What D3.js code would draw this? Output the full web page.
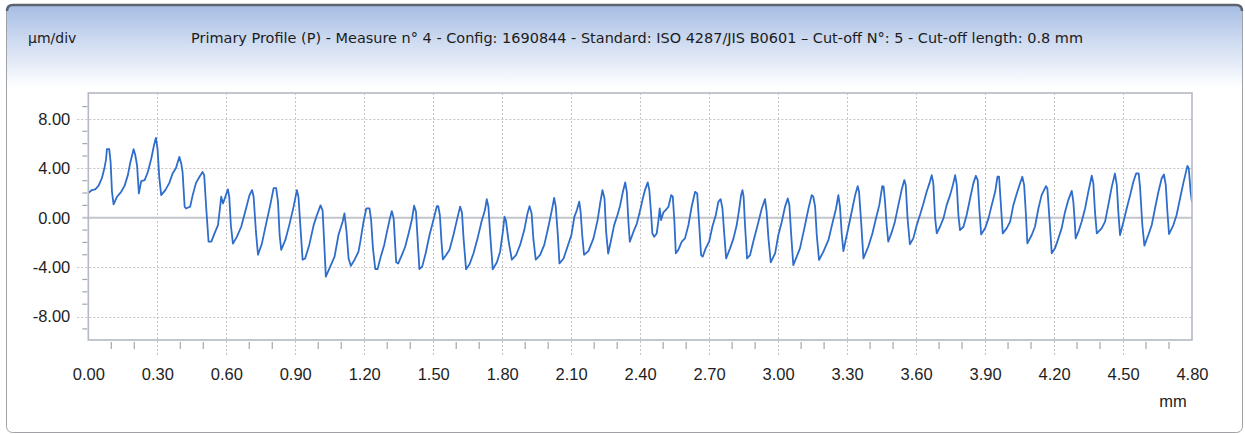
<!DOCTYPE html>
<html>
<head>
<meta charset="utf-8">
<script src="https://cdn.jsdelivr.net/npm/d3@7"></script>
<style>
  html, body { margin: 0; padding: 0; background: #ffffff; }
  svg { display: block; }
</style>
</head>
<body>
<svg id="chart" width="1245" height="434"></svg>
<script>
// Primary profile trace: position along the surface (mm) and height (µm)
const profileX = [
  0.000,0.016,0.030,0.045,0.059,0.070,0.077,0.081,0.091,0.097,0.103,0.110,0.125,0.143,0.158,0.172,0.183,0.197,0.204,0.212,
  0.220,0.230,0.245,0.259,0.274,0.286,0.294,0.301,0.309,0.317,0.335,0.352,0.367,0.381,0.396,0.404,0.410,0.419,0.425,0.443,
  0.454,0.468,0.483,0.497,0.504,0.513,0.523,0.535,0.549,0.564,0.574,0.578,0.586,0.596,0.607,0.613,0.620,0.629,0.646,0.665,
  0.686,0.701,0.712,0.719,0.729,0.738,0.755,0.772,0.791,0.806,0.817,0.825,0.832,0.839,0.857,0.874,0.893,0.907,0.914,0.923,
  0.932,0.943,0.961,0.980,0.994,1.010,1.019,1.025,1.033,1.052,1.071,1.088,1.106,1.114,1.123,1.132,1.142,1.158,1.175,1.183,
  1.197,1.209,1.223,1.230,1.238,1.248,1.258,1.272,1.287,1.299,1.310,1.320,1.328,1.333,1.339,1.348,1.364,1.378,1.393,1.407,
  1.417,1.425,1.432,1.440,1.452,1.467,1.484,1.501,1.516,1.522,1.529,1.536,1.542,1.557,1.571,1.588,1.603,1.617,1.625,1.632,
  1.643,1.658,1.675,1.693,1.710,1.725,1.733,1.740,1.748,1.759,1.777,1.791,1.803,1.810,1.816,1.827,1.842,1.861,1.878,1.896,
  1.910,1.919,1.928,1.936,1.946,1.965,1.983,2.001,2.016,2.026,2.033,2.042,2.049,2.067,2.084,2.101,2.114,2.125,2.135,2.141,
  2.148,2.156,2.175,2.197,2.215,2.226,2.236,2.245,2.252,2.261,2.272,2.287,2.301,2.313,2.325,2.335,2.342,2.349,2.355,2.371,
  2.386,2.400,2.410,2.421,2.433,2.440,2.448,2.453,2.461,2.472,2.479,2.485,2.491,2.501,2.511,2.523,2.535,2.542,2.549,2.555,
  2.566,2.581,2.595,2.610,2.624,2.639,2.648,2.656,2.665,2.672,2.685,2.700,2.714,2.729,2.740,2.750,2.758,2.765,2.774,2.791,
  2.806,2.820,2.830,2.839,2.845,2.850,2.856,2.865,2.878,2.892,2.911,2.929,2.943,2.950,2.958,2.968,2.987,3.001,3.016,3.030,
  3.042,3.049,3.056,3.066,3.081,3.095,3.114,3.132,3.146,3.153,3.161,3.168,3.178,3.197,3.219,3.236,3.252,3.262,3.269,3.277,
  3.284,3.294,3.308,3.323,3.335,3.346,3.352,3.361,3.371,3.392,3.410,3.424,3.440,3.453,3.459,3.465,3.472,3.479,3.494,3.508,
  3.523,3.537,3.549,3.555,3.563,3.573,3.588,3.603,3.617,3.632,3.646,3.658,3.668,3.675,3.683,3.690,3.704,3.719,3.733,3.748,
  3.760,3.770,3.777,3.784,3.791,3.806,3.820,3.835,3.849,3.860,3.868,3.875,3.883,3.900,3.915,3.929,3.944,3.954,3.961,3.968,
  3.977,3.994,4.009,4.023,4.038,4.052,4.062,4.070,4.077,4.084,4.103,4.117,4.132,4.146,4.165,4.171,4.180,4.190,4.204,4.219,
  4.233,4.248,4.262,4.277,4.284,4.290,4.294,4.306,4.320,4.335,4.349,4.364,4.371,4.378,4.386,4.407,4.422,4.436,4.451,4.465,
  4.473,4.480,4.487,4.502,4.516,4.531,4.545,4.557,4.568,4.574,4.584,4.593,4.610,4.625,4.639,4.654,4.668,4.678,4.686,4.693,
  4.700,4.719,4.733,4.748,4.762,4.780,4.786,4.794,4.800
];
const profileY = [
  2.00,2.24,2.30,2.60,3.20,4.00,4.70,5.55,5.55,4.50,2.10,1.08,1.70,2.10,2.60,3.45,4.50,5.55,5.10,4.25,
  1.97,2.96,3.05,3.70,4.80,5.90,6.47,5.60,3.20,1.83,2.24,2.80,3.60,4.00,4.93,4.40,3.70,0.90,0.75,0.90,
  1.83,2.80,3.30,3.70,3.45,0.75,-1.94,-1.94,-1.27,-0.60,1.00,1.70,1.16,1.70,2.30,1.70,-0.60,-2.10,-1.55,-0.73,
  0.75,1.83,2.24,1.70,-1.13,-3.00,-2.10,-0.60,1.00,2.40,2.40,1.30,-1.40,-2.60,-1.80,-0.60,0.90,2.24,1.70,-0.86,
  -3.40,-3.30,-2.20,-0.60,0.20,1.00,0.60,-1.67,-4.77,-3.96,-3.15,-1.40,-0.32,0.35,-1.13,-3.30,-3.90,-3.40,-2.75,-1.94,
  -0.32,0.75,0.75,-0.19,-2.48,-4.15,-4.15,-3.15,-2.20,-1.13,-0.19,0.54,-0.05,-1.67,-3.60,-3.70,-3.00,-2.35,-1.27,-0.19,
  0.97,0.50,-1.67,-4.15,-3.96,-2.90,-1.40,-0.19,0.94,0.94,0.20,-1.94,-3.37,-3.00,-2.60,-1.40,-0.19,0.90,0.43,-1.67,
  -4.18,-3.77,-2.90,-1.67,-0.32,0.62,1.50,0.90,-1.40,-4.18,-3.60,-2.75,-1.13,0.08,-0.19,-1.80,-3.40,-3.00,-2.20,-1.00,
  0.35,0.94,0.35,-1.80,-3.40,-3.00,-2.20,-0.73,0.62,1.60,0.90,-1.40,-3.70,-3.30,-2.35,-1.40,0.08,0.62,1.30,0.50,
  -1.40,-3.00,-2.70,-1.67,-0.19,1.16,2.24,1.56,-1.13,-2.90,-1.94,-0.60,0.20,1.00,2.10,2.86,2.10,-0.32,-1.94,-1.13,
  -0.45,0.60,1.43,2.24,2.86,2.24,0.22,-1.27,-1.54,-1.27,-0.32,0.75,-0.19,0.43,0.62,0.89,1.83,1.70,-0.32,-2.88,
  -2.60,-1.94,-1.67,-0.59,0.89,2.10,1.97,-0.32,-3.02,-3.15,-2.48,-1.94,-0.73,0.22,1.29,1.51,0.75,-1.13,-3.29,-2.48,
  -1.67,-0.59,0.62,1.83,2.24,1.70,-0.59,-3.29,-3.02,-1.94,-0.59,0.75,1.51,0.49,-1.67,-3.61,-2.88,-1.40,-0.32,0.89,
  1.56,1.02,-1.13,-3.83,-3.15,-2.48,-0.86,0.75,1.83,1.70,0.89,-1.40,-3.42,-2.75,-1.80,-0.46,0.75,1.83,0.89,-1.40,
  -2.70,-1.80,-0.59,0.75,1.83,2.56,2.10,-0.32,-3.29,-2.35,-1.27,-0.19,1.02,2.56,2.50,1.29,-0.59,-1.94,-1.19,-0.32,
  1.02,2.24,3.05,2.64,-0.05,-2.15,-1.67,-0.59,0.22,1.16,2.10,2.78,3.45,2.78,-0.05,-1.27,-0.73,-0.05,1.02,1.83,
  2.64,3.45,2.64,0.22,-1.00,-0.73,0.22,1.56,2.78,3.40,3.05,0.75,-1.35,-0.86,-0.05,1.02,2.10,3.32,3.32,1.29,
  -1.27,-0.86,-0.32,1.02,1.97,2.78,3.32,2.64,0.49,-2.08,-1.40,-0.73,0.75,1.83,2.56,2.37,-0.05,-2.88,-2.48,-1.67,
  -0.86,0.49,1.43,2.18,1.29,-0.32,-1.67,-1.13,-0.32,0.75,2.10,3.40,2.78,0.49,-1.27,-0.86,-0.32,1.02,2.50,3.58,
  2.64,0.35,-1.40,-0.32,0.75,1.83,2.91,3.58,3.58,2.50,-0.59,-2.26,-1.40,-0.59,0.75,2.10,3.18,3.50,2.64,0.49,
  -1.32,-0.59,0.22,1.56,2.78,4.20,3.99,2.10,1.24
];

// Axis ticks
const xTicks = [0, 0.3, 0.6, 0.9, 1.2, 1.5, 1.8, 2.1, 2.4, 2.7, 3.0, 3.3, 3.6, 3.9, 4.2, 4.5, 4.8];
const xMinorTicks = d3.range(1, 48).map(i => i / 10).filter(v => Math.abs(v / 0.3 - Math.round(v / 0.3)) > 1e-6);
const yTicks = [-8, -4, 0, 4, 8];
const yMinorTicks = d3.range(-9, 10).filter(v => v % 4 !== 0);

const unitLabel = "µm/div";
const titleText = "Primary Profile (P) - Measure n° 4 - Config: 1690844 - Standard: ISO 4287/JIS B0601 – Cut-off N°: 5 - Cut-off length: 0.8 mm";
const xUnit = "mm";

const plot = { left: 88.3, right: 1192, top: 93, bottom: 340 };

const svg = d3.select("#chart");
const defs = svg.append("defs");

const grad = defs.append("linearGradient")
  .attr("id", "headerGrad").attr("x1", 0).attr("y1", 0).attr("x2", 0).attr("y2", 1);
grad.append("stop").attr("offset", "0%").attr("stop-color", "#a6bde3");
grad.append("stop").attr("offset", "45%").attr("stop-color", "#d0dcf1");
grad.append("stop").attr("offset", "100%").attr("stop-color", "#ffffff");

defs.append("clipPath").attr("id", "plotClip")
  .append("rect")
  .attr("x", plot.left).attr("y", plot.top)
  .attr("width", plot.right - plot.left).attr("height", plot.bottom - plot.top);

// Window frame
svg.append("rect")
  .attr("x", 6.5).attr("y", 4.5).attr("width", 1236).attr("height", 428)
  .attr("rx", 6).attr("fill", "#ffffff").attr("stroke", "#9ea3aa").attr("stroke-width", 1);

// Header band
svg.append("rect")
  .attr("x", 7).attr("y", 6).attr("width", 1235).attr("height", 82)
  .attr("fill", "url(#headerGrad)");
svg.append("path")
  .attr("d", "M7,11 Q7,5 13,5 L1236,5 Q1242,5 1242,11")
  .attr("fill", "none").attr("stroke", "#5d6470").attr("stroke-width", 2.5);

svg.append("text")
  .attr("x", 28).attr("y", 43)
  .attr("font-family", "'DejaVu Sans', Verdana, sans-serif")
  .attr("font-size", 14).attr("fill", "#1c1c1c")
  .text(unitLabel);
svg.append("text")
  .attr("x", 191).attr("y", 43)
  .attr("font-family", "'DejaVu Sans', Verdana, sans-serif")
  .attr("font-size", 13.5).attr("fill", "#1c1c1c")
  .attr("textLength", 892).attr("lengthAdjust", "spacingAndGlyphs")
  .text(titleText);

// Scales
const x = d3.scaleLinear().domain([0, 4.8]).range([plot.left, plot.right]);
const y = d3.scaleLinear().domain([-9.9, 10.1]).range([plot.bottom, plot.top]);

const grid = svg.append("g").attr("stroke", "#c3c3c3").attr("stroke-width", 1)
  .attr("stroke-dasharray", "2,2").attr("fill", "none");

// Vertical grid lines, extending below the plot as major ticks
grid.selectAll("line.v")
  .data(xTicks.filter(v => v > 0 && v < 4.8))
  .join("line")
  .attr("x1", d => Math.round(x(d)) + 0.5).attr("x2", d => Math.round(x(d)) + 0.5)
  .attr("y1", plot.top).attr("y2", plot.bottom + 16);

// Horizontal grid lines, extending left of the plot as major ticks
grid.selectAll("line.h")
  .data(yTicks.filter(v => v !== 0))
  .join("line")
  .attr("x1", plot.left - 11).attr("x2", plot.right)
  .attr("y1", d => Math.round(y(d)) + 0.5).attr("y2", d => Math.round(y(d)) + 0.5);

// Zero reference line
svg.append("line")
  .attr("x1", plot.left - 6).attr("x2", plot.right)
  .attr("y1", y(0)).attr("y2", y(0))
  .attr("stroke", "#c2c5c9").attr("stroke-width", 2.2);

// Minor ticks
svg.append("g").attr("stroke", "#a3a6ab").attr("stroke-width", 1.2)
  .selectAll("line")
  .data(yMinorTicks)
  .join("line")
  .attr("x1", plot.left - 6).attr("x2", plot.left - 1)
  .attr("y1", d => y(d)).attr("y2", d => y(d));
svg.append("g").attr("stroke", "#a3a6ab").attr("stroke-width", 1.2)
  .selectAll("line")
  .data(xMinorTicks)
  .join("line")
  .attr("x1", d => x(d)).attr("x2", d => x(d))
  .attr("y1", plot.bottom + 2).attr("y2", plot.bottom + 9);

// Profile trace
const line = d3.line().x(d => x(d[0])).y(d => y(d[1]));
svg.append("path")
  .datum(d3.zip(profileX, profileY))
  .attr("clip-path", "url(#plotClip)")
  .attr("fill", "none")
  .attr("stroke", "#2f6dcb")
  .attr("stroke-width", 1.8)
  .attr("stroke-linejoin", "round")
  .attr("d", line);

// Plot frame
svg.append("rect")
  .attr("x", plot.left).attr("y", plot.top)
  .attr("width", plot.right - plot.left).attr("height", plot.bottom - plot.top)
  .attr("fill", "none").attr("stroke", "#b3b9c3").attr("stroke-width", 1.6);

// Tick labels via d3 axes
const fmt = d => d.toFixed(2);
const xAxis = svg.append("g")
  .attr("transform", `translate(0,${plot.bottom})`)
  .call(d3.axisBottom(x).tickValues(xTicks).tickFormat(fmt).tickSize(0).tickPadding(28));
const yAxis = svg.append("g")
  .attr("transform", `translate(${plot.left},0)`)
  .call(d3.axisLeft(y).tickValues(yTicks).tickFormat(fmt).tickSize(0).tickPadding(18));
[xAxis, yAxis].forEach(g => {
  g.select(".domain").remove();
  g.selectAll("text")
    .attr("font-family", "'Liberation Sans', Arial, sans-serif")
    .attr("font-size", 16.5).attr("fill", "#1e1e1e");
});

svg.append("text")
  .attr("x", 1173).attr("y", 407)
  .attr("text-anchor", "middle")
  .attr("font-family", "'Liberation Sans', Arial, sans-serif")
  .attr("font-size", 16.5).attr("fill", "#1e1e1e")
  .text(xUnit);
</script>
</body>
</html>
